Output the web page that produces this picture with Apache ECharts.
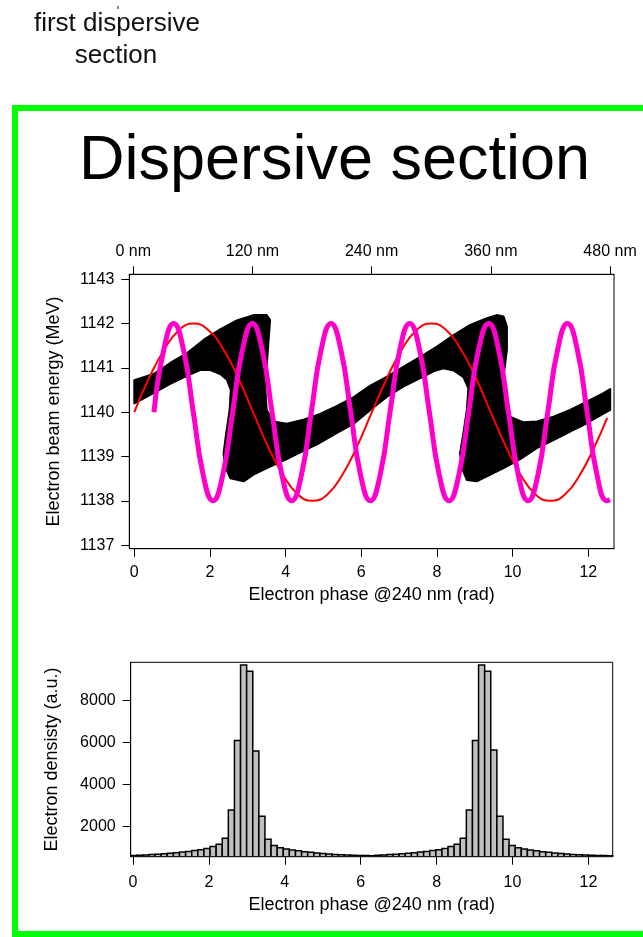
<!DOCTYPE html>
<html><head><meta charset="utf-8">
<script src="https://cdn.jsdelivr.net/npm/echarts@6/dist/echarts.min.js"></script>
<style>html,body{margin:0;padding:0;background:#fff;}#chart{width:643px;height:937px;}</style>
</head><body><div id="chart"></div>
<script>
// ---------- data ----------
// outline of the black electron bunch (phase rad, energy MeV), traced around the band
const bandPhase = [0.00,0.00,0.51,0.95,1.39,1.83,2.27,2.71,3.15,3.50,3.59,3.55,3.50,3.46,3.50,3.68,4.03,4.47,4.91,5.36,5.80,6.24,6.68,7.12,7.56,8.00,8.44,8.88,9.32,9.58,9.76,9.85,9.85,9.76,9.76,9.93,10.29,10.64,11.08,11.52,11.96,12.40,12.58,12.58,11.96,11.52,11.08,10.64,10.20,9.76,9.32,9.05,8.79,8.66,8.61,8.70,8.79,8.83,8.70,8.44,8.17,7.91,7.56,7.12,6.68,6.24,5.80,5.36,4.91,4.47,4.03,3.59,3.15,2.89,2.54,2.40,2.36,2.43,2.52,2.55,2.45,2.27,2.01,1.74,1.39,0.95,0.51];
const bandEnergy = [1140.20,1140.72,1140.86,1141.11,1141.33,1141.63,1141.87,1142.07,1142.19,1142.19,1142.08,1141.63,1141.03,1140.58,1140.05,1139.79,1139.74,1139.83,1139.96,1140.14,1140.34,1140.60,1140.80,1141.03,1141.25,1141.48,1141.74,1141.97,1142.12,1142.19,1142.16,1141.93,1141.41,1140.80,1140.28,1139.90,1139.77,1139.79,1139.90,1140.05,1140.24,1140.43,1140.52,1140.05,1139.75,1139.56,1139.37,1139.19,1138.94,1138.74,1138.55,1138.44,1138.47,1138.74,1139.07,1139.53,1140.05,1140.54,1140.79,1140.94,1140.99,1140.92,1140.77,1140.58,1140.35,1140.05,1139.74,1139.53,1139.31,1139.13,1138.94,1138.77,1138.59,1138.44,1138.51,1138.77,1139.07,1139.53,1140.05,1140.50,1140.73,1140.86,1140.95,1140.95,1140.82,1140.64,1140.43];

// thin red curve
const redPhase  = [0,0.39,0.79,1.18,1.57,1.96,2.36,2.75,3.14,3.53,3.93,4.32,4.71,5.11,5.50,5.89,6.28,6.68,7.07,7.46,7.85,8.25,8.64,9.03,9.42,9.82,10.21,10.60,11.00,11.39,11.78,12.17,12.50];
const redEnergy = [1140,1140.77,1141.41,1141.85,1142,1141.85,1141.41,1140.77,1140,1139.23,1138.59,1138.15,1138,1138.15,1138.59,1139.23,1140,1140.77,1141.41,1141.85,1142,1141.85,1141.41,1140.77,1140,1139.23,1138.59,1138.15,1138,1138.15,1138.59,1139.23,1139.87];

// thick magenta curve
const magentaPhase  = [0.52,0.78,1.04,1.30,1.56,1.82,2.08,2.34,2.60,2.86,3.12,3.38,3.64,3.90,4.16,4.42,4.68,4.94,5.20,5.46,5.72,5.98,6.24,6.50,6.76,7.02,7.28,7.54,7.80,8.06,8.32,8.58,8.84,9.10,9.37,9.63,9.89,10.15,10.41,10.67,10.93,11.19,11.45,11.71,11.97,12.23,12.49,12.57];
const magentaEnergy = [1140,1141.41,1142,1141.41,1140,1138.59,1138,1138.59,1140,1141.41,1142,1141.41,1140,1138.59,1138,1138.59,1140,1141.41,1142,1141.41,1140,1138.59,1138,1138.59,1140,1141.41,1142,1141.41,1140,1138.59,1138,1138.59,1140,1141.41,1142,1141.41,1140,1138.59,1138,1138.59,1140,1141.41,1142,1141.41,1140,1138.59,1138,1138.03];

// histogram
const binStart = -0.06;
const binWidth = 0.1608;
const density = [625,640,655,670,690,710,730,760,790,820,860,900,960,1050,1160,1450,2800,6100,9700,9400,5600,2500,1400,1100,1000,940,890,850,810,780,750,720,700,680,665,650,640,630,625,620,640,655,670,690,710,730,760,790,820,860,900,960,1050,1160,1450,2800,6100,9700,9400,5650,2500,1400,1100,1000,940,890,850,810,780,750,720,700,680,665,650,640,630,625,620];

// tick labels
const phaseTicks = [0,2,4,6,8,10,12];
const nmTicks = [0,120,240,360,480];
const energyTicks = [1137,1138,1139,1140,1141,1142,1143];
const densityTicks = [2000,4000,6000,8000];

// ---------- chart ----------
const FONT = '"Liberation Sans", Arial, Helvetica, sans-serif';
const HIST_MIN = 570;
const chart = echarts.init(document.getElementById('chart'));

function axisCommon(ticks, extra, labelExtra) {
  return Object.assign({
    type: 'value',
    axisLine: { show: true, onZero: false, lineStyle: { color: '#000', width: 1 } },
    axisTick: { show: true, inside: false, length: 8, customValues: ticks, lineStyle: { color: '#000', width: 1 } },
    axisLabel: Object.assign({ show: true, customValues: ticks, margin: 15, fontSize: 16, color: '#000', fontFamily: FONT,
      formatter: v => String(v) }, labelExtra || {}),
    splitLine: { show: false },
    nameTextStyle: { fontSize: 18, color: '#000', fontFamily: FONT }
  }, extra);
}

const option = {
  animation: false,
  backgroundColor: '#fff',
  textStyle: { fontFamily: FONT },
  graphic: [
    { type: 'rect', z: 0, shape: { x: 15, y: 108, width: 700, height: 826 }, style: { fill: 'none', stroke: '#00ff00', lineWidth: 6 } },
    { type: 'text', x: 117, y: 24, style: { text: 'first dispersive', fontSize: 26, fontFamily: FONT, fill: '#111', align: 'center', verticalAlign: 'middle' } },
    { type: 'text', x: 116, y: 56, style: { text: 'section', fontSize: 26, fontFamily: FONT, fill: '#111', align: 'center', verticalAlign: 'middle' } },
    { type: 'rect', shape: { x: 117, y: 6, width: 2, height: 3 }, style: { fill: '#888' } },
    { type: 'text', x: 334.5, y: 162, style: { text: 'Dispersive section', fontSize: 63, fontFamily: FONT, fill: '#000', align: 'center', verticalAlign: 'middle' } }
  ],
  grid: [
    { left: 129.3, top: 274.3, width: 484.7, height: 274.4, show: true, borderColor: '#000', borderWidth: 1, backgroundColor: '#fff', containLabel: false, outerBoundsMode: 'none' },
    { left: 130.7, top: 662.3, width: 482, height: 194.4, show: true, borderColor: '#000', borderWidth: 1, backgroundColor: '#fff', containLabel: false, outerBoundsMode: 'none' }
  ],
  xAxis: [
    axisCommon(phaseTicks, { gridIndex: 0, position: 'bottom', min: -0.132, max: 12.68,
      name: 'Electron phase @240 nm (rad)', nameLocation: 'middle', nameGap: 37 }, { margin: 16 }),
    axisCommon(nmTicks, { gridIndex: 0, position: 'top', min: -4, max: 484 },
      { formatter: v => v + ' nm' }),
    axisCommon(phaseTicks, { gridIndex: 1, position: 'bottom', min: -0.06, max: 12.64,
      name: 'Electron phase @240 nm (rad)', nameLocation: 'middle', nameGap: 39 }, { margin: 18 })
  ],
  yAxis: [
    axisCommon(energyTicks, { gridIndex: 0, position: 'left', min: 1136.92, max: 1143.11,
      name: 'Electron beam energy (MeV)', nameLocation: 'middle', nameRotate: 90, nameGap: 66 }),
    axisCommon(densityTicks, { gridIndex: 1, position: 'left', min: HIST_MIN, max: 9830,
      name: 'Electron densisty (a.u.)', nameLocation: 'middle', nameRotate: 90, nameGap: 70 })
  ],
  series: [
    {
      type: 'custom', xAxisIndex: 0, yAxisIndex: 0, z: 2, silent: true, clip: true,
      data: [[bandPhase[0], bandEnergy[0]]],
      renderItem: function (params, api) {
        const pts = bandPhase.map((p, i) => api.coord([p, bandEnergy[i]]));
        return { type: 'polygon', shape: { points: pts }, style: { fill: '#000', stroke: '#000', lineWidth: 2, lineJoin: 'round' } };
      }
    },
    {
      type: 'line', xAxisIndex: 0, yAxisIndex: 0, z: 3, silent: true, showSymbol: false, smooth: true,
      data: redPhase.map((p, i) => [p, redEnergy[i]]),
      lineStyle: { color: '#ff0000', width: 2 }
    },
    {
      type: 'line', xAxisIndex: 0, yAxisIndex: 0, z: 4, silent: true, showSymbol: false, smooth: true,
      data: magentaPhase.map((p, i) => [p, magentaEnergy[i]]),
      lineStyle: { color: '#ff00cc', width: 5 }
    },
    {
      type: 'custom', xAxisIndex: 2, yAxisIndex: 1, z: 2, silent: true, clip: true,
      data: density.map((d, i) => [binStart + i * binWidth, binStart + (i + 1) * binWidth, d]),
      encode: { x: [0, 1], y: 2 },
      renderItem: function (params, api) {
        const p0 = api.coord([api.value(0), api.value(2)]);
        const p1 = api.coord([api.value(1), HIST_MIN]);
        return { type: 'rect', shape: { x: p0[0], y: p0[1], width: p1[0] - p0[0], height: p1[1] - p0[1] },
                 style: { fill: '#c0c0c0', stroke: '#000', lineWidth: 1.5 } };
      }
    }
  ]
};
chart.setOption(option);
</script></body></html>
